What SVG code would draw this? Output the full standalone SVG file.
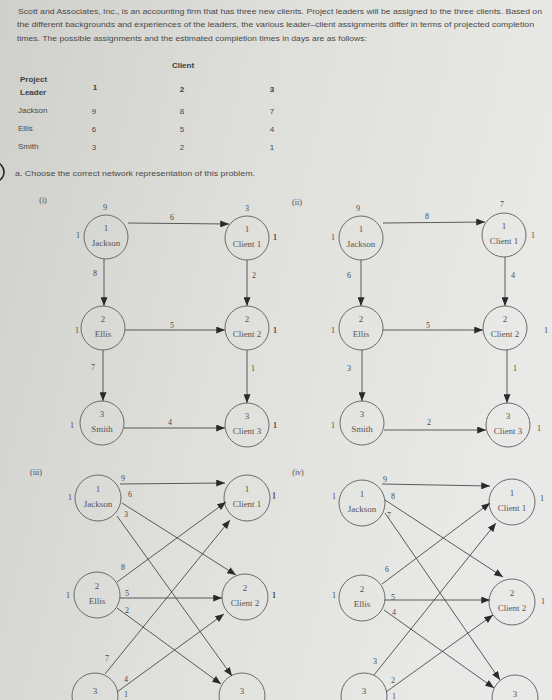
<svg xmlns="http://www.w3.org/2000/svg" width="552" height="700" viewBox="0 0 552 700">
<defs>
<linearGradient id="bg" x1="0" y1="0" x2="1" y2="0.3">
<stop offset="0" stop-color="#cfcfcb"/>
<stop offset="0.5" stop-color="#dfdfdb"/>
<stop offset="1" stop-color="#e9e9e7"/>
</linearGradient>
<marker id="ah" viewBox="0 0 10 8" refX="10" refY="4" markerWidth="9" markerHeight="7" markerUnits="userSpaceOnUse" orient="auto">
<path d="M0,0 L10,4 L0,8 z" fill="#2a2a2a"/>
</marker>
<style>
.para{font-family:"Liberation Sans",Arial,sans-serif;font-size:7.5px;fill:#4a4a4a}
.tb{font-family:"Liberation Sans",Arial,sans-serif;font-size:8px;fill:#4a4a4a}
.tbb{font-family:"Liberation Sans",Arial,sans-serif;font-size:8px;font-weight:bold;fill:#404040}
.nd circle{fill:none;stroke:#6a6a6a;stroke-width:1}
.nt{font-family:"Liberation Serif","Times New Roman",serif;font-size:9px;fill:#555;text-anchor:middle}
.lb{font-family:"Liberation Serif","Times New Roman",serif;font-size:8px;fill:#4a4a4a;text-anchor:middle}
.ed path{fill:none;stroke:#4a4a4a;stroke-width:0.9;marker-end:url(#ah)}
</style>
</defs>
<rect width="552" height="700" fill="url(#bg)"/>

<g id="intro">
<text class="para" x="18" y="14" textLength="524" lengthAdjust="spacingAndGlyphs">Scott and Associates, Inc., is an accounting firm that has three new clients. Project leaders will be assigned to the three clients. Based on</text>
<text class="para" x="17" y="27" textLength="517" lengthAdjust="spacingAndGlyphs">the different backgrounds and experiences of the leaders, the various leader–client assignments differ in terms of projected completion</text>
<text class="para" x="17" y="41" textLength="350" lengthAdjust="spacingAndGlyphs">times. The possible assignments and the estimated completion times in days are as follows:</text>
</g>

<g id="table">
<text class="tbb" x="183" y="68" text-anchor="middle">Client</text>
<text class="tbb" x="20" y="82">Project</text>
<text class="tbb" x="20" y="95">Leader</text>
<text class="tbb" x="95" y="90" text-anchor="middle">1</text>
<text class="tbb" x="182" y="92" text-anchor="middle">2</text>
<text class="tbb" x="272" y="92" text-anchor="middle">3</text>
<text class="tb" x="18" y="113">Jackson</text>
<text class="tb" x="94" y="114" text-anchor="middle">9</text>
<text class="tb" x="182" y="114" text-anchor="middle">8</text>
<text class="tb" x="272" y="114" text-anchor="middle">7</text>
<text class="tb" x="18" y="131">Ellis</text>
<text class="tb" x="94" y="132" text-anchor="middle">6</text>
<text class="tb" x="182" y="132" text-anchor="middle">5</text>
<text class="tb" x="272" y="132" text-anchor="middle">4</text>
<text class="tb" x="18" y="149">Smith</text>
<text class="tb" x="94" y="150" text-anchor="middle">3</text>
<text class="tb" x="182" y="150" text-anchor="middle">2</text>
<text class="tb" x="272" y="150" text-anchor="middle">1</text>
</g>

<circle cx="-6" cy="172" r="10" fill="none" stroke="#222" stroke-width="1.5"/>
<text class="tb" x="15" y="176" textLength="240" lengthAdjust="spacingAndGlyphs">a. Choose the correct network representation of this problem.</text>

<!-- Diagram (i) -->
<text class="lb" x="43" y="203">(i)</text>
<g id="i-jackson" class="nd"><circle cx="106" cy="237" r="22"/><text class="nt" x="106" y="231">1</text><text class="nt" x="106" y="246">Jackson</text></g>
<g id="i-client1" class="nd"><circle cx="247" cy="238" r="22"/><text class="nt" x="247" y="232">1</text><text class="nt" x="247" y="247">Client 1</text></g>
<g id="i-ellis" class="nd"><circle cx="103" cy="328" r="22"/><text class="nt" x="103" y="322">2</text><text class="nt" x="103" y="337">Ellis</text></g>
<g id="i-client2" class="nd"><circle cx="247" cy="328" r="22"/><text class="nt" x="247" y="322">2</text><text class="nt" x="247" y="337">Client 2</text></g>
<g id="i-smith" class="nd"><circle cx="102" cy="423" r="22"/><text class="nt" x="102" y="417">3</text><text class="nt" x="102" y="432">Smith</text></g>
<g id="i-client3" class="nd"><circle cx="247" cy="425" r="22"/><text class="nt" x="247" y="419">3</text><text class="nt" x="247" y="434">Client 3</text></g>
<g id="i-edges" class="ed">
<path d="M128,223 L229,224"/>
<path d="M104,259 L104,306"/>
<path d="M125,330 L225,330"/>
<path d="M103,350 L103,401"/>
<path d="M247,260 L247,306"/>
<path d="M247,350 L247,403"/>
<path d="M124,428 L225,428"/>
</g>
<g id="i-labels">
<text class="lb" x="105" y="210">9</text><text class="lb" x="78" y="238">1</text>
<text class="lb" x="172" y="220">6</text><text class="lb" x="247" y="211">3</text><text class="lb" x="275" y="240">1</text>
<text class="lb" x="95" y="276">8</text><text class="lb" x="254" y="278">2</text>
<text class="lb" x="77" y="333">1</text><text class="lb" x="172" y="328">5</text><text class="lb" x="275" y="333">1</text>
<text class="lb" x="93" y="370">7</text><text class="lb" x="253" y="371">1</text>
<text class="lb" x="72" y="428">1</text><text class="lb" x="170" y="425">4</text><text class="lb" x="275" y="428">1</text>
</g>

<!-- Diagram (ii) -->
<text class="lb" x="297" y="205">(ii)</text>
<g id="ii-jackson" class="nd"><circle cx="361" cy="238" r="22"/><text class="nt" x="361" y="232">1</text><text class="nt" x="361" y="247">Jackson</text></g>
<g id="ii-client1" class="nd"><circle cx="504" cy="235" r="22"/><text class="nt" x="504" y="229">1</text><text class="nt" x="504" y="244">Client 1</text></g>
<g id="ii-ellis" class="nd"><circle cx="361" cy="328" r="22"/><text class="nt" x="361" y="322">2</text><text class="nt" x="361" y="337">Ellis</text></g>
<g id="ii-client2" class="nd"><circle cx="505" cy="328" r="22"/><text class="nt" x="505" y="322">2</text><text class="nt" x="505" y="337">Client 2</text></g>
<g id="ii-smith" class="nd"><circle cx="362" cy="423" r="22"/><text class="nt" x="362" y="417">3</text><text class="nt" x="362" y="432">Smith</text></g>
<g id="ii-client3" class="nd"><circle cx="508" cy="425" r="22"/><text class="nt" x="508" y="419">3</text><text class="nt" x="508" y="434">Client 3</text></g>
<g id="ii-edges" class="ed">
<path d="M383,223 L485,222"/>
<path d="M361,260 L361,306"/>
<path d="M383,330 L483,330"/>
<path d="M362,350 L362,401"/>
<path d="M505,257 L505,306"/>
<path d="M507,350 L507,403"/>
<path d="M384,430 L486,430"/>
</g>
<g id="ii-labels">
<text class="lb" x="358" y="211">9</text><text class="lb" x="333" y="240">1</text><text class="lb" x="275" y="240">1</text>
<text class="lb" x="427" y="219">8</text><text class="lb" x="502" y="207">7</text><text class="lb" x="533" y="238">1</text>
<text class="lb" x="349" y="278">6</text><text class="lb" x="513" y="278">4</text>
<text class="lb" x="275" y="333">1</text><text class="lb" x="333" y="333">1</text><text class="lb" x="428" y="328">5</text><text class="lb" x="546" y="333">1</text>
<text class="lb" x="349" y="371">3</text><text class="lb" x="515" y="371">1</text>
<text class="lb" x="275" y="428">1</text><text class="lb" x="333" y="428">1</text><text class="lb" x="429" y="425">2</text><text class="lb" x="539" y="431">1</text>
</g>

<!-- Diagram (iii) -->
<text class="lb" x="36" y="475">(iii)</text>
<g id="iii-jackson" class="nd"><circle cx="98" cy="498" r="23"/><text class="nt" x="98" y="492">1</text><text class="nt" x="98" y="507">Jackson</text></g>
<g id="iii-client1" class="nd"><circle cx="247" cy="498" r="23"/><text class="nt" x="247" y="492">1</text><text class="nt" x="247" y="507">Client 1</text></g>
<g id="iii-ellis" class="nd"><circle cx="97" cy="595" r="23"/><text class="nt" x="97" y="589">2</text><text class="nt" x="97" y="604">Ellis</text></g>
<g id="iii-client2" class="nd"><circle cx="245" cy="597" r="23"/><text class="nt" x="245" y="591">2</text><text class="nt" x="245" y="606">Client 2</text></g>
<g id="iii-smith" class="nd"><circle cx="95" cy="696" r="23"/><text class="nt" x="95" y="694">3</text></g>
<g id="iii-client3" class="nd"><circle cx="242" cy="696" r="23"/><text class="nt" x="242" y="694">3</text></g>
<g id="iii-edges" class="ed">
<path d="M120,484 L225,483"/>
<path d="M122,503 L236,575"/>
<path d="M117,516 L232,676"/>
<path d="M117,582 L226,502"/>
<path d="M120,598 L222,598"/>
<path d="M117,608 L221,684"/>
<path d="M105,674 L230,520"/>
<path d="M117,692 L224,614"/>
</g>
<g id="iii-labels">
<text class="lb" x="70" y="500">1</text><text class="lb" x="123" y="481">9</text><text class="lb" x="130" y="497">6</text><text class="lb" x="126" y="517">3</text><text class="lb" x="274" y="498">1</text>
<text class="lb" x="123" y="570">8</text><text class="lb" x="68" y="598">1</text><text class="lb" x="127" y="596">5</text><text class="lb" x="127" y="613">2</text><text class="lb" x="274" y="598">1</text>
<text class="lb" x="107" y="661">7</text><text class="lb" x="126" y="682">4</text><text class="lb" x="126" y="697">1</text>
</g>

<!-- Diagram (iv) -->
<text class="lb" x="298" y="475">(iv)</text>
<g id="iv-jackson" class="nd"><circle cx="362" cy="503" r="23"/><text class="nt" x="362" y="497">1</text><text class="nt" x="362" y="512">Jackson</text></g>
<g id="iv-client1" class="nd"><circle cx="512" cy="502" r="23"/><text class="nt" x="512" y="496">1</text><text class="nt" x="512" y="511">Client 1</text></g>
<g id="iv-ellis" class="nd"><circle cx="362" cy="598" r="23"/><text class="nt" x="362" y="592">2</text><text class="nt" x="362" y="607">Ellis</text></g>
<g id="iv-client2" class="nd"><circle cx="512" cy="602" r="23"/><text class="nt" x="512" y="596">2</text><text class="nt" x="512" y="611">Client 2</text></g>
<g id="iv-smith" class="nd"><circle cx="364" cy="696" r="23"/><text class="nt" x="364" y="694">3</text></g>
<g id="iv-client3" class="nd"><circle cx="515" cy="698" r="23"/><text class="nt" x="515" y="697">3</text></g>
<g id="iv-edges" class="ed">
<path d="M382,484 L490,486"/>
<path d="M385,500 L503,577"/>
<path d="M385,513 L500,680"/>
<path d="M382,584 L490,503"/>
<path d="M385,600 L490,600"/>
<path d="M384,610 L494,688"/>
<path d="M374,675 L496,523"/>
<path d="M386,692 L493,615"/>
</g>
<g id="iv-labels">
<text class="lb" x="274" y="499">1</text><text class="lb" x="334" y="499">1</text><text class="lb" x="385" y="482">9</text><text class="lb" x="393" y="499">8</text><text class="lb" x="389" y="518">7</text><text class="lb" x="542" y="501">1</text>
<text class="lb" x="387" y="572">6</text><text class="lb" x="274" y="598">1</text><text class="lb" x="334" y="598">1</text><text class="lb" x="393" y="600">5</text><text class="lb" x="394" y="615">4</text><text class="lb" x="543" y="604">1</text>
<text class="lb" x="375" y="664">3</text><text class="lb" x="393" y="683">2</text><text class="lb" x="394" y="699">1</text>
</g>
</svg>
